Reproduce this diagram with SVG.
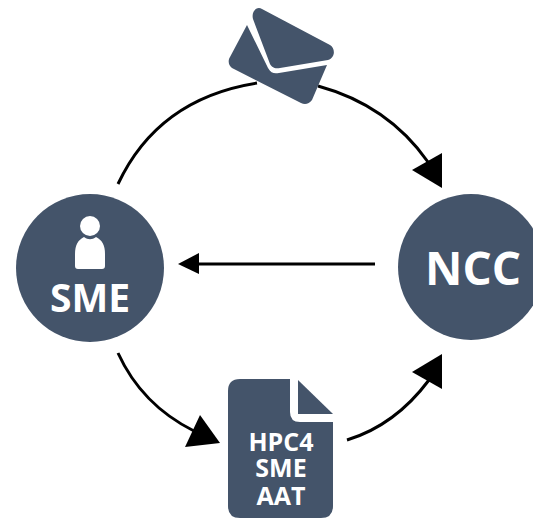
<svg xmlns="http://www.w3.org/2000/svg" width="533" height="518" viewBox="0 0 533 518">
<style>
.n{fill:#44546a}
.t{font-family:"Open Sans","Liberation Sans",sans-serif;font-weight:700;fill:#fff;text-anchor:middle}
.c{fill:none;stroke:#000;stroke-width:3;stroke-linecap:butt}
.h{fill:#000}
</style>
<rect width="533" height="518" fill="#fff"/>
<g id="connectors">
<path class="c" d="M118 184C148 120 200 92 257 83"/>
<path class="c" d="M318 86C362 98 400 122 428 162"/>
<polygon class="h" points="412,170 442,153 442,188"/>
<path class="c" d="M375 264H197"/>
<polygon class="h" points="178,264 199,253 199,274"/>
<path class="c" d="M118 353C134 388 160 414 194 431"/>
<polygon class="h" points="200,415 220,443 185,447"/>
<path class="c" d="M347 440C380 430 408 408 429 380"/>
<polygon class="h" points="412,372 442,354 442,389"/>
</g>
<g id="envelope">
<path class="n" d="M253 19C251 11 257 6 262 9L330 45C335 48 336 57 328 60L280 68C274 69 272 67 270 64Z"/>
<path class="n" d="M247 25L268 68C271 73 274 74 279 73L327 65L312 100C309 104 305 105 301 103L232 68C228 65 228 60 230 57Z"/>
</g>
<g id="sme">
<circle class="n" cx="90" cy="268" r="74"/>
<circle cx="90" cy="226" r="10" fill="#fff"/>
<path fill="#fff" d="M75 266V254C75 245 78 240 84 237C88 240 92 240 96 237C102 240 105 245 105 254V266Q105 269 102 269H78Q75 269 75 266Z"/>
<text class="t" x="90" y="312" font-size="39">SME</text>
</g>
<g id="ncc">
<circle class="n" cx="471" cy="267" r="73"/>
<text class="t" x="473" y="285" font-size="46">NCC</text>
</g>
<g id="document">
<path class="n" d="M240 379H290V412Q290 422 300 422H333V506Q333 518 321 518H240Q228 518 228 506V391Q228 379 240 379Z"/>
<path class="n" d="M298 380L333 414H298Z"/>
<text class="t" x="281" y="451" font-size="25">HPC4</text>
<text class="t" x="281" y="477" font-size="25">SME</text>
<text class="t" x="281" y="505" font-size="25">AAT</text>
</g>
</svg>
